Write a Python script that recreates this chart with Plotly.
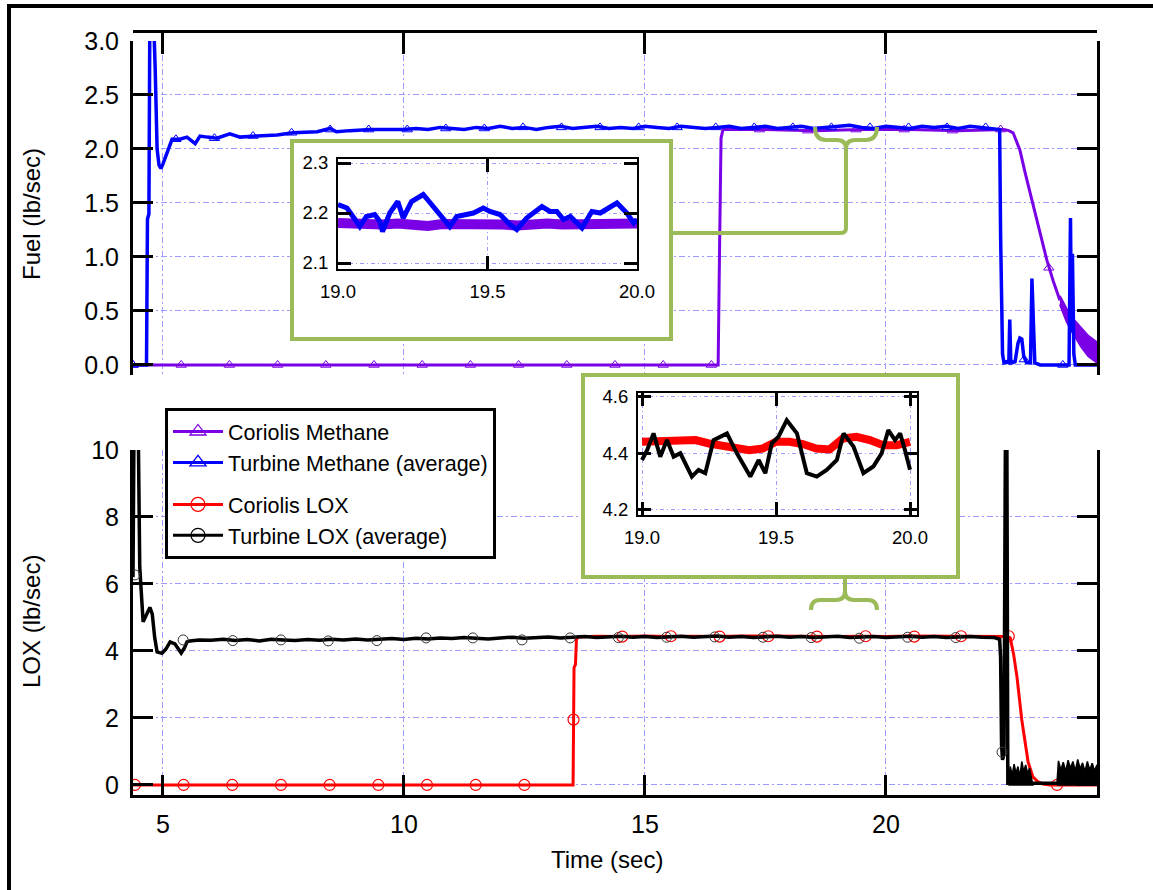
import plotly.graph_objects as go

W, H = 1153, 890

# ---------------- data ----------------
# Top panel: fuel flow (lb/sec) vs time (sec)
fuel_cor_t = [4.38, 16.52, 16.55, 16.58, 16.62, 17.5, 18.5, 19.5, 20.5, 21.5, 22.45, 22.55,
              22.64, 22.78, 22.90, 23.05, 23.20, 23.34, 23.47, 23.61]
fuel_cor_v = [0.0, 0.0, 1.10, 2.10, 2.18, 2.18, 2.17, 2.18, 2.18, 2.17, 2.18, 2.17,
              2.15, 1.99, 1.76, 1.50, 1.23, 0.97, 0.78, 0.60]
fuel_cor_band_t = [23.61, 23.75, 23.90, 24.05, 24.20, 24.38]
fuel_cor_band_hi = [0.64, 0.52, 0.42, 0.34, 0.27, 0.21]
fuel_cor_band_lo = [0.56, 0.40, 0.28, 0.17, 0.08, 0.02]

fuel_turb_t = [4.38, 4.66, 4.68, 4.71, 4.73, 4.80, 4.84, 4.88, 4.92, 4.96, 5.00, 5.08, 5.19,
               5.35, 5.50, 5.67, 5.77, 5.92, 6.12, 6.39, 6.60, 6.95, 7.37, 7.70, 8.20, 8.47,
               8.60, 8.88, 9.30, 9.65,
               10.0, 10.25, 10.5, 10.75, 11.0, 11.25, 11.5, 11.75, 12.0, 12.25, 12.5, 12.75,
               13.0, 13.25, 13.5, 13.75, 14.0, 14.25, 14.5, 14.75, 15.0, 15.25, 15.5, 15.75,
               16.0, 16.25, 16.5, 16.75, 17.0, 17.25, 17.5, 17.75, 18.0, 18.25, 18.5, 18.75,
               19.0, 19.25, 19.5, 19.75, 20.0, 20.25, 20.5, 20.75, 21.0, 21.25, 21.5, 21.75,
               22.0, 22.25,
               22.36, 22.38, 22.40, 22.42, 22.45, 22.50, 22.55, 22.57, 22.59, 22.62, 22.68,
               22.74, 22.78, 22.82, 22.86, 22.92, 23.00, 23.03, 23.06, 23.09, 23.20, 23.50,
               23.80, 23.83, 23.85, 23.87, 23.90, 23.93, 24.38]
fuel_turb_v = [0.0, 0.0, 1.35, 1.40, 3.30, 3.30, 2.75, 2.00, 1.85, 1.82, 1.86, 1.96, 2.09,
               2.09, 2.11, 2.05, 2.12, 2.11, 2.10, 2.14, 2.11, 2.12, 2.13, 2.15, 2.16, 2.19,
               2.16, 2.17, 2.18, 2.18,
               2.18, 2.19, 2.18, 2.20, 2.19, 2.18, 2.20, 2.19, 2.21, 2.19, 2.20, 2.18,
               2.20, 2.21, 2.19, 2.20, 2.21, 2.19, 2.20, 2.19, 2.21, 2.20, 2.19, 2.21,
               2.20, 2.19, 2.20, 2.21, 2.19, 2.20, 2.21, 2.19, 2.20, 2.21, 2.19, 2.20,
               2.21, 2.22, 2.20, 2.19, 2.21, 2.20, 2.19, 2.21, 2.20, 2.21, 2.19, 2.21,
               2.20, 2.19,
               2.18, 1.20, 0.30, 0.10, 0.02, 0.03, 0.02, 0.42, 0.05, 0.02, 0.03,
               0.20, 0.25, 0.24, 0.08, 0.02, 0.02, 0.80, 0.40, 0.02, 0.0, 0.0,
               0.0, 1.36, 0.30, 1.03, 0.10, 0.0, 0.0]

fuel_cor_mk_t = [4.38, 5.38, 6.38, 7.38, 8.38, 9.38, 10.38, 11.38, 12.38, 13.38, 14.38, 15.38,
                 16.38, 17.38, 18.38, 19.38, 20.38, 21.38, 22.38, 23.38]
fuel_cor_mk_v = [0, 0, 0, 0, 0, 0, 0, 0, 0, 0, 0, 0, 0, 2.18, 2.17, 2.18, 2.18, 2.17, 2.18, 0.90]
fuel_turb_mk_t = [4.38, 5.27, 6.07, 6.87, 7.67, 8.47, 9.27, 10.07, 10.87, 11.67, 12.47, 13.27,
                  14.07, 14.87, 15.67, 16.47, 17.27, 18.07, 18.87, 19.67, 20.47, 21.27, 22.07,
                  22.87, 23.67]
fuel_turb_mk_v = [0.0, 2.09, 2.10, 2.12, 2.15, 2.18, 2.18, 2.18, 2.19, 2.19, 2.20, 2.20, 2.20,
                  2.20, 2.20, 2.20, 2.20, 2.20, 2.20, 2.20, 2.20, 2.20, 2.20, 0.05, 0.0]

# Bottom panel: LOX flow (lb/sec) vs time (sec)
lox_cor_t = [4.38, 13.51, 13.53, 13.56, 13.58, 13.62, 14.0, 14.5, 15.0, 15.5, 16.0, 16.5, 17.0,
             17.5, 18.0, 18.5, 19.0, 19.5, 20.0, 20.5, 21.0, 21.5, 22.0, 22.50, 22.58, 22.65,
             22.72, 22.82, 22.95, 23.05, 23.15, 23.26, 23.40, 24.38]
lox_cor_v = [0.0, 0.0, 3.50, 3.60, 4.35, 4.42, 4.44, 4.43, 4.45, 4.43, 4.44, 4.43, 4.45,
             4.44, 4.43, 4.44, 4.43, 4.44, 4.43, 4.45, 4.44, 4.43, 4.44, 4.43, 4.39, 3.90,
             3.22, 1.94, 0.69, 0.24, 0.10, 0.03, 0.0, 0.0]
lox_cor_mk_t = [4.42, 5.43, 6.44, 7.45, 8.46, 9.47, 10.48, 11.49, 12.50, 13.52, 14.53, 15.54,
                16.55, 17.56, 18.57, 19.58, 20.59, 21.56, 22.55, 23.55]
lox_cor_mk_v = [0, 0, 0, 0, 0, 0, 0, 0, 0, 1.95, 4.43, 4.44, 4.43, 4.44, 4.43, 4.44, 4.43,
                4.44, 4.44, 0.0]

lox_turb_t = [4.38, 4.40, 4.49, 4.52, 4.59, 4.66, 4.73, 4.78, 4.83, 4.88,
              4.98, 5.06, 5.15, 5.25, 5.32, 5.38, 5.45, 5.50, 5.56, 5.75,
              6.0, 6.25, 6.5, 6.75, 7.0, 7.25, 7.5, 7.75, 8.0, 8.25, 8.5,
              8.75, 9.0, 9.25, 9.5, 9.75, 10.0, 10.25, 10.5, 10.75, 11.0, 11.25,
              11.5, 11.75, 12.0, 12.25, 12.5, 12.75, 13.0, 13.25, 13.5, 13.75, 14.0,
              14.25, 14.5, 14.75, 15.0, 15.25, 15.5, 15.75, 16.0, 16.25, 16.5, 16.75,
              17.0, 17.25, 17.5, 17.75, 18.0, 18.25, 18.5, 18.75, 19.0, 19.25, 19.5,
              19.75, 20.0, 20.25, 20.5, 20.75, 21.0, 21.25, 21.5, 21.75, 22.0, 22.25,
              22.36, 22.38, 22.40, 22.42, 22.45, 22.48, 22.51, 22.53, 23.05, 23.55]
lox_turb_v = [6.20, 10.5, 10.5, 6.50, 4.87, 5.10, 5.30, 5.10, 4.40, 3.97,
              3.93, 4.05, 4.27, 4.21, 4.05, 3.94, 4.10, 4.27, 4.30, 4.33,
              4.32, 4.35, 4.31, 4.34, 4.30, 4.35, 4.33, 4.31, 4.34, 4.32, 4.35,
              4.33, 4.36, 4.33, 4.35, 4.37, 4.34, 4.38, 4.36, 4.39, 4.37, 4.40,
              4.38, 4.36, 4.39, 4.41, 4.38, 4.40, 4.42, 4.39, 4.41, 4.43, 4.40,
              4.42, 4.44, 4.41, 4.43, 4.40, 4.42, 4.44, 4.41, 4.43, 4.45, 4.41,
              4.43, 4.40, 4.42, 4.44, 4.41, 4.43, 4.40, 4.42, 4.44, 4.40, 4.42,
              4.43, 4.40, 4.42, 4.44, 4.41, 4.43, 4.40, 4.42, 4.43, 4.41, 4.40,
              4.35, 3.80, 1.20, 0.75, 0.90, 10.5, 10.5, 0.05, 0.05, 0.05]
lox_turb_mk_t = [4.42, 5.42, 6.45, 7.45, 8.43, 9.44, 10.46, 11.43, 12.45, 13.45, 14.45, 15.45,
                 16.45, 17.45, 18.45, 19.45, 20.45, 21.45, 22.41]
lox_turb_mk_v = [6.27, 4.33, 4.31, 4.33, 4.30, 4.31, 4.39, 4.39, 4.33, 4.39, 4.40, 4.41,
                 4.42, 4.41, 4.40, 4.38, 4.41, 4.40, 0.98]
# shut-down chatter of the turbine LOX reading (upper envelope, floor at zero)
lox_noise1_t = [22.54, 22.58, 22.62, 22.66, 22.70, 22.74, 22.78, 22.82, 22.86, 22.90, 22.94,
                22.98, 23.02, 23.05]
lox_noise1_hi = [0.10, 0.55, 0.30, 0.62, 0.35, 0.55, 0.25, 0.70, 0.40, 0.60, 0.35, 0.50,
                 0.20, 0.05]
lox_noise2_t = [23.55, 23.58, 23.63, 23.68, 23.73, 23.78, 23.83, 23.88, 23.93, 23.98, 24.03,
                24.08, 24.13, 24.18, 24.23, 24.28, 24.33, 24.38]
lox_noise2_hi = [0.05, 0.72, 0.45, 0.68, 0.40, 0.74, 0.50, 0.70, 0.42, 0.76, 0.48, 0.66,
                 0.40, 0.70, 0.45, 0.65, 0.42, 0.60]

# Inset 1: fuel, 19-20 s
fi_turb_t = [19.000, 19.030, 19.050, 19.073, 19.095, 19.123, 19.140, 19.149, 19.173, 19.200,
             19.218, 19.246, 19.285, 19.318, 19.352, 19.374, 19.397, 19.430, 19.453, 19.486,
             19.508, 19.542, 19.575, 19.598, 19.631, 19.682, 19.709, 19.732, 19.754, 19.777,
             19.816, 19.849, 19.877, 19.933, 19.966, 19.989, 20.000]
fi_turb_v = [2.217, 2.210, 2.193, 2.173, 2.193, 2.197, 2.183, 2.163, 2.200, 2.223,
             2.190, 2.223, 2.237, 2.213, 2.187, 2.173, 2.193, 2.197, 2.200, 2.210,
             2.203, 2.197, 2.177, 2.167, 2.190, 2.213, 2.203, 2.203, 2.187, 2.193,
             2.170, 2.203, 2.200, 2.220, 2.200, 2.180, 2.187]
fi_cor_t = [19.00, 19.05, 19.10, 19.15, 19.20, 19.25, 19.30, 19.35, 19.40, 19.45, 19.50,
            19.55, 19.60, 19.65, 19.70, 19.75, 19.80, 19.85, 19.90, 19.95, 20.00]
fi_cor_v = [2.180, 2.178, 2.176, 2.177, 2.179, 2.176, 2.174, 2.178, 2.179, 2.177, 2.178,
            2.177, 2.175, 2.178, 2.179, 2.177, 2.178, 2.175, 2.178, 2.177, 2.179]

# Inset 2: LOX, 19-20 s
li_cor_t = [19.00, 19.05, 19.10, 19.15, 19.20, 19.25, 19.30, 19.35, 19.40, 19.45, 19.50,
            19.55, 19.60, 19.65, 19.70, 19.75, 19.80, 19.85, 19.90, 19.95, 20.00]
li_cor_v = [4.440, 4.440, 4.440, 4.443, 4.446, 4.434, 4.428, 4.420, 4.410, 4.416, 4.440,
            4.440, 4.432, 4.416, 4.413, 4.452, 4.458, 4.446, 4.428, 4.428, 4.440]
li_turb_t = [19.000, 19.019, 19.043, 19.068, 19.093, 19.118, 19.143, 19.186, 19.211, 19.236,
             19.267, 19.317, 19.354, 19.404, 19.435, 19.460, 19.484, 19.509, 19.540, 19.578,
             19.615, 19.652, 19.689, 19.727, 19.752, 19.789, 19.826, 19.863, 19.894, 19.919,
             19.944, 19.963, 19.981, 20.000]
li_turb_v = [4.375, 4.410, 4.470, 4.387, 4.446, 4.387, 4.399, 4.316, 4.340, 4.328,
             4.446, 4.470, 4.399, 4.316, 4.375, 4.328, 4.434, 4.458, 4.517, 4.470,
             4.328, 4.316, 4.340, 4.375, 4.470, 4.423, 4.328, 4.352, 4.399, 4.482,
             4.446, 4.470, 4.411, 4.340]

legend_names = ["Coriolis Methane", "Turbine Methane (average)", "Coriolis LOX", "Turbine LOX (average)"]

# ---------------- styling ----------------
PURPLE, BLUE, RED, BLACK = "#7a00e6", "#0000ff", "#ff0000", "#000000"
GREEN = "#9bbb59"
GRID = "#9a9aff"
FONT = "Liberation Sans, Arial, sans-serif"


def px(x):
    return x / W


def py(y):
    return 1 - y / H


def P(x, y):
    return f"{px(x):.5f},{py(y):.5f}"


fig = go.Figure()

# top panel
fig.add_trace(go.Scatter(x=fuel_cor_t, y=fuel_cor_v, mode="lines", line=dict(color=PURPLE, width=3),
                         xaxis="x", yaxis="y", showlegend=False, hoverinfo="skip"))
fig.add_trace(go.Scatter(x=fuel_cor_band_t + fuel_cor_band_t[::-1],
                         y=fuel_cor_band_hi + fuel_cor_band_lo[::-1], mode="lines",
                         fill="toself", fillcolor=PURPLE, line=dict(color=PURPLE, width=2),
                         xaxis="x", yaxis="y", showlegend=False, hoverinfo="skip"))
fig.add_trace(go.Scatter(x=fuel_cor_mk_t, y=fuel_cor_mk_v, mode="markers",
                         marker=dict(symbol="triangle-up-open", size=9, color=PURPLE, line=dict(width=1)),
                         xaxis="x", yaxis="y", showlegend=False, hoverinfo="skip"))
fig.add_trace(go.Scatter(x=fuel_turb_t, y=fuel_turb_v, mode="lines", line=dict(color=BLUE, width=3.5),
                         xaxis="x", yaxis="y", showlegend=False, hoverinfo="skip"))
fig.add_trace(go.Scatter(x=fuel_turb_mk_t, y=fuel_turb_mk_v, mode="markers",
                         marker=dict(symbol="triangle-up-open", size=9, color=BLUE, line=dict(width=1)),
                         xaxis="x", yaxis="y", showlegend=False, hoverinfo="skip"))

# bottom panel
fig.add_trace(go.Scatter(x=lox_cor_t, y=lox_cor_v, mode="lines", line=dict(color=RED, width=3),
                         xaxis="x2", yaxis="y2", showlegend=False, hoverinfo="skip"))
fig.add_trace(go.Scatter(x=lox_cor_mk_t, y=lox_cor_mk_v, mode="markers",
                         marker=dict(symbol="circle-open", size=11, color=RED, line=dict(width=1.2)),
                         xaxis="x2", yaxis="y2", showlegend=False, hoverinfo="skip"))
fig.add_trace(go.Scatter(x=lox_turb_t, y=lox_turb_v, mode="lines", line=dict(color=BLACK, width=3.5),
                         xaxis="x2", yaxis="y2", showlegend=False, hoverinfo="skip"))
for nt, nh in ((lox_noise1_t, lox_noise1_hi), (lox_noise2_t, lox_noise2_hi)):
    fig.add_trace(go.Scatter(x=nt + nt[::-1], y=nh + [0.0] * len(nt), mode="lines",
                             fill="toself", fillcolor=BLACK, line=dict(color=BLACK, width=1.5),
                             xaxis="x2", yaxis="y2", showlegend=False, hoverinfo="skip"))
fig.add_trace(go.Scatter(x=lox_turb_mk_t, y=lox_turb_mk_v, mode="markers",
                         marker=dict(symbol="circle-open", size=10, color="#333333", line=dict(width=1)),
                         xaxis="x2", yaxis="y2", showlegend=False, hoverinfo="skip"))

# white panels behind the insets (subplots 3 and 4)
for ax in ("3", "4"):
    fig.add_trace(go.Scatter(x=[None], y=[None], xaxis="x" + ax, yaxis="y" + ax,
                             showlegend=False, hoverinfo="skip"))

# inset 1 (fuel)
fig.add_trace(go.Scatter(x=fi_cor_t, y=fi_cor_v, mode="lines", line=dict(color=PURPLE, width=10),
                         xaxis="x5", yaxis="y5", showlegend=False, hoverinfo="skip"))
fig.add_trace(go.Scatter(x=fi_turb_t, y=fi_turb_v, mode="lines", line=dict(color=BLUE, width=5),
                         xaxis="x5", yaxis="y5", showlegend=False, hoverinfo="skip"))
# inset 2 (LOX)
fig.add_trace(go.Scatter(x=li_cor_t, y=li_cor_v, mode="lines", line=dict(color=RED, width=8),
                         xaxis="x6", yaxis="y6", showlegend=False, hoverinfo="skip"))
fig.add_trace(go.Scatter(x=li_turb_t, y=li_turb_v, mode="lines", line=dict(color=BLACK, width=4),
                         xaxis="x6", yaxis="y6", showlegend=False, hoverinfo="skip"))

# legend entries
leg_style = [(PURPLE, "triangle-up-open", "fuel"), (BLUE, "triangle-up-open", "fuel"),
             (RED, "circle-open", "lox"), (BLACK, "circle-open", "lox")]
for name, (col, sym, grp) in zip(legend_names, leg_style):
    fig.add_trace(go.Scatter(x=[None], y=[None], mode="lines+markers", name=name, legendgroup=grp,
                             line=dict(color=col, width=3),
                             marker=dict(symbol=sym, size=14, color=col, line=dict(width=1.3)),
                             xaxis="x2", yaxis="y2"))

tickfont = dict(family=FONT, size=25, color="black")
insetfont = dict(family=FONT, size=18.5, color="black")
main_ax = dict(showline=True, linecolor="black", linewidth=3, ticks="inside", tickcolor="black",
               tickwidth=3, ticklen=20, showgrid=True, gridcolor=GRID, gridwidth=1,
               griddash="6px,3px,2px,3px", zeroline=False, tickfont=tickfont, automargin=False)
inset_ax = dict(showline=True, linecolor="black", linewidth=2, ticks="inside", tickcolor="black",
                tickwidth=2.5, ticklen=13, showgrid=True, gridcolor=GRID, gridwidth=1,
                griddash="4px,3px,1px,3px", zeroline=False, mirror="ticks", tickfont=insetfont,
                automargin=False)
blank_ax = dict(showline=False, showgrid=False, zeroline=False, showticklabels=False, ticks="",
                fixedrange=True, automargin=False)

XR = [4.38, 24.38]
XD = [px(133), px(1097)]

fig.update_layout(
    template="none",
    width=W, height=H, margin=dict(l=0, r=0, t=0, b=0, pad=0, autoexpand=False),
    paper_bgcolor="white", plot_bgcolor="white",
    font=dict(family=FONT, color="black"),
    xaxis=dict(main_ax, domain=XD, range=XR, anchor="free", position=py(31), side="top",
               tickvals=[5, 10, 15, 20], showticklabels=False, ticklen=21),
    yaxis=dict(main_ax, domain=[py(375), py(41)], range=[-0.093, 3.0], anchor="x", mirror="ticks",
               tickvals=[0, 0.5, 1.0, 1.5, 2.0, 2.5, 3.0],
               ticktext=["0.0", "0.5", "1.0", "1.5", "2.0", "2.5", "3.0"], ticklabelstandoff=6),
    xaxis2=dict(main_ax, domain=XD, range=XR, anchor="y2", side="bottom",
                tickvals=[5, 10, 15, 20], ticktext=["5", "10", "15", "20"], ticklabelstandoff=5),
    yaxis2=dict(main_ax, domain=[py(795), py(450)], range=[-0.3, 10], anchor="x2", mirror="ticks",
                tickvals=[0, 2, 4, 6, 8, 10], ticktext=["0", "2", "4", "6", "8", "10"],
                ticklabelstandoff=6),
    xaxis3=dict(blank_ax, domain=[px(292), px(671)], anchor="y3", range=[0, 1]),
    yaxis3=dict(blank_ax, domain=[py(339), py(141)], anchor="x3", range=[0, 1]),
    xaxis4=dict(blank_ax, domain=[px(583), px(958)], anchor="y4", range=[0, 1]),
    yaxis4=dict(blank_ax, domain=[py(577), py(375)], anchor="x4", range=[0, 1]),
    xaxis5=dict(inset_ax, domain=[px(338), px(637)], range=[19.0, 20.0], anchor="y5",
                tickvals=[19.0, 19.5, 20.0], ticktext=["19.0", "19.5", "20.0"], ticklabelstandoff=5),
    yaxis5=dict(inset_ax, domain=[py(269), py(159)], range=[2.088, 2.308], anchor="x5",
                tickvals=[2.1, 2.2, 2.3], ticktext=["2.1", "2.2", "2.3"], ticklabelstandoff=4),
    xaxis6=dict(inset_ax, domain=[px(638), px(917)], range=[18.985, 20.026], anchor="y6",
                tickvals=[19.0, 19.5, 20.0], ticktext=["19.0", "19.5", "20.0"], ticklabelstandoff=5),
    yaxis6=dict(inset_ax, domain=[py(515), py(393)], range=[4.179, 4.614], anchor="x6",
                tickvals=[4.2, 4.4, 4.6], ticktext=["4.2", "4.4", "4.6"], ticklabelstandoff=4),
    legend=dict(x=px(165), y=py(408), xanchor="left", yanchor="top", bgcolor="white",
                bordercolor="black", borderwidth=3, font=dict(family=FONT, size=21.5, color="black"),
                itemwidth=50, tracegroupgap=11, traceorder="grouped"),
    hovermode=False,
)

# axis titles
title_font = dict(family=FONT, size=24, color="black")
fig.add_annotation(text="Fuel (lb/sec)", x=px(31), y=py(214), xref="paper", yref="paper",
                   xanchor="center", yanchor="middle", textangle=-90, showarrow=False, font=title_font)
fig.add_annotation(text="LOX (lb/sec)", x=px(31), y=py(622), xref="paper", yref="paper",
                   xanchor="center", yanchor="middle", textangle=-90, showarrow=False, font=title_font)
fig.add_annotation(text="Time (sec)", x=px(607), y=py(859), xref="paper", yref="paper",
                   xanchor="center", yanchor="middle", showarrow=False, font=title_font)

# outer frame
fig.add_shape(type="rect", xref="paper", yref="paper", x0=px(9), y0=py(900), x1=px(1170), y1=py(6),
              line=dict(color="black", width=4), layer="above")
# green inset boxes
fig.add_shape(type="rect", xref="paper", yref="paper", x0=px(292), y0=py(339), x1=px(671), y1=py(141),
              line=dict(color=GREEN, width=4), layer="above")
fig.add_shape(type="rect", xref="paper", yref="paper", x0=px(583), y0=py(577), x1=px(958), y1=py(375),
              line=dict(color=GREEN, width=4), layer="above")
# braces and connectors
brace1 = (f"M {P(815,127)} Q {P(815,140)} {P(826,140)} L {P(837,140)} Q {P(846,140)} {P(846,149)} "
          f"L {P(846,228)} Q {P(846,233)} {P(841,233)} L {P(671,233)} "
          f"M {P(877,127)} Q {P(877,140)} {P(866,140)} L {P(855,140)} Q {P(846,140)} {P(846,149)}")
brace2 = (f"M {P(845,577)} L {P(845,591)} Q {P(845,600)} {P(836,600)} L {P(820,600)} "
          f"Q {P(811,600)} {P(811,610)} "
          f"M {P(845,591)} Q {P(845,600)} {P(854,600)} L {P(868,600)} Q {P(877,600)} {P(877,610)}")
for pth in (brace1, brace2):
    fig.add_shape(type="path", xref="paper", yref="paper", path=pth,
                  line=dict(color=GREEN, width=4), layer="above")

fig.write_html("out.html", config={"displayModeBar": False},
               post_script="document.body.style.margin='0px';")
